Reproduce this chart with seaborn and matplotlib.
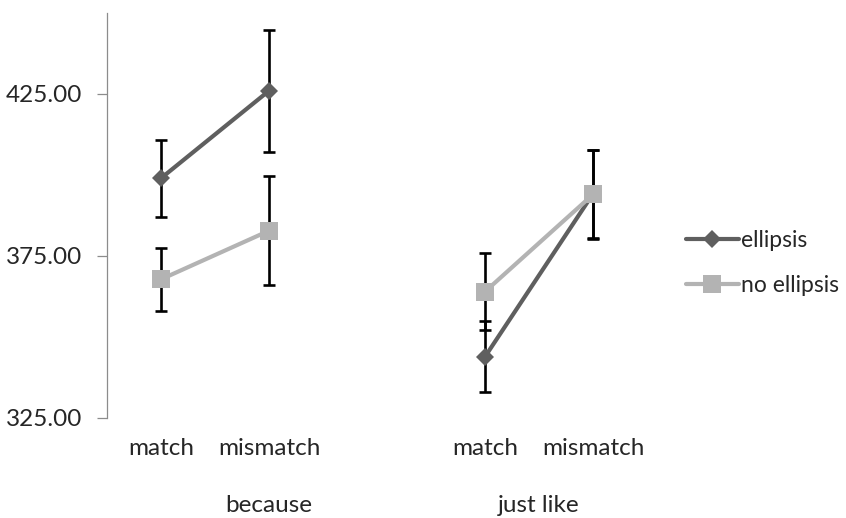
import matplotlib
matplotlib.use("Agg")
import matplotlib.pyplot as plt
import numpy as np
import pandas as pd
import seaborn as sns
from matplotlib.lines import Line2D
from matplotlib.transforms import blended_transform_factory

# ---- data -------------------------------------------------------------
connectives = ["because", "just like"]
matching = ["match", "mismatch"]
conditions = ["ellipsis", "no ellipsis"]

# mean reading times, ordered because/match, because/mismatch,
# just like/match, just like/mismatch
ellipsis_rt = [399.0, 426.0, 343.9, 394.2]
ellipsis_err = [11.9, 18.9, 11.0, 13.5]
no_ellipsis_rt = [367.8, 382.8, 364.0, 394.0]
no_ellipsis_err = [9.8, 16.9, 11.9, 13.7]

y_ticks = [325, 375, 425]
y_range = (325, 450)

# ---- styling ----------------------------------------------------------
sns.set_theme(style="white")
plt.rcParams["font.family"] = ["Lato", "DejaVu Sans"]
FS = 17.5
LEG_FS = 16.5
TEXT = "#262626"
colors = {"ellipsis": "#5f5f5f", "no ellipsis": "#b3b3b3"}
markers = {"ellipsis": "D", "no ellipsis": "s"}
msizes = {"ellipsis": 9.5, "no ellipsis": 12.5}

# each connective gets one slot per matching level, plus a blank slot
# separating it from the next connective
stride = len(matching) + 1
rows = []
for gi, conn in enumerate(connectives):
    for mi, m in enumerate(matching):
        k = gi * len(matching) + mi
        pos = gi * stride + mi
        for cond, rt, err in ((conditions[0], ellipsis_rt, ellipsis_err),
                              (conditions[1], no_ellipsis_rt, no_ellipsis_err)):
            rows.append(dict(connective=conn, matching=m, condition=cond,
                             pos=pos, rt=rt[k], err=err[k]))
df = pd.DataFrame(rows)

fig = plt.figure(figsize=(8.46, 5.18), dpi=100)
ax = fig.add_axes([107 / 846, 100 / 518, 540 / 846, 405 / 518])

# error bars underneath the series lines
for cond in conditions:
    sub = df[df.condition == cond]
    ax.errorbar(sub.pos, sub.rt, yerr=sub.err, fmt="none", ecolor="black",
                elinewidth=1.9, capsize=4, capthick=1.9, zorder=2)

sns.lineplot(data=df, x="pos", y="rt", hue="condition", style="condition",
             units="connective", estimator=None, palette=colors,
             markers=markers, dashes=False, linewidth=3,
             markeredgewidth=0, legend=False, ax=ax, zorder=3)
for line in ax.lines:
    for cond in conditions:
        if matplotlib.colors.same_color(line.get_color(), colors[cond]):
            line.set_markersize(msizes[cond])
            line.set_markerfacecolor(colors[cond])

ax.set_xlim(-0.5, (len(connectives) - 1) * stride + len(matching) - 0.5)
ax.set_ylim(*y_range)
ax.set_yticks(y_ticks, [f"{v:.2f}" for v in y_ticks])
ax.set_xticks([])
ax.set_xlabel("")
ax.set_ylabel("")

for side in ("top", "right", "bottom"):
    ax.spines[side].set_visible(False)
ax.spines["left"].set_color("#8c8c8c")
ax.spines["left"].set_linewidth(0.9)
ax.tick_params(axis="y", which="both", left=True, direction="out",
               length=7, width=0.9, color="#8c8c8c", pad=11,
               labelsize=FS, labelcolor=TEXT)

# two-level category labels
tr = blended_transform_factory(ax.transData, ax.transAxes)
for gi, conn in enumerate(connectives):
    start = gi * stride
    end = start + len(matching) - 1 + (1 if gi < len(connectives) - 1 else 0)
    for mi, m in enumerate(matching):
        ax.text(start + mi, -0.075, m, transform=tr, ha="center", va="center",
                fontsize=FS, color=TEXT)
    ax.text((start + end) / 2, -0.215, conn, transform=tr, ha="center",
            va="center", fontsize=FS, color=TEXT)

handles = [Line2D([], [], color=colors[c], marker=markers[c],
                  markersize=msizes[c], markeredgewidth=0, linewidth=3)
           for c in conditions]
fig.legend(handles, conditions, loc="center left",
           bbox_to_anchor=(686 / 846, 1 - 263 / 518), frameon=False,
           fontsize=LEG_FS, handlelength=2.3, handletextpad=0.12,
           labelspacing=1.05, borderpad=0, borderaxespad=0,
           labelcolor=TEXT)

fig.savefig("out.png", dpi=100, facecolor="white")
